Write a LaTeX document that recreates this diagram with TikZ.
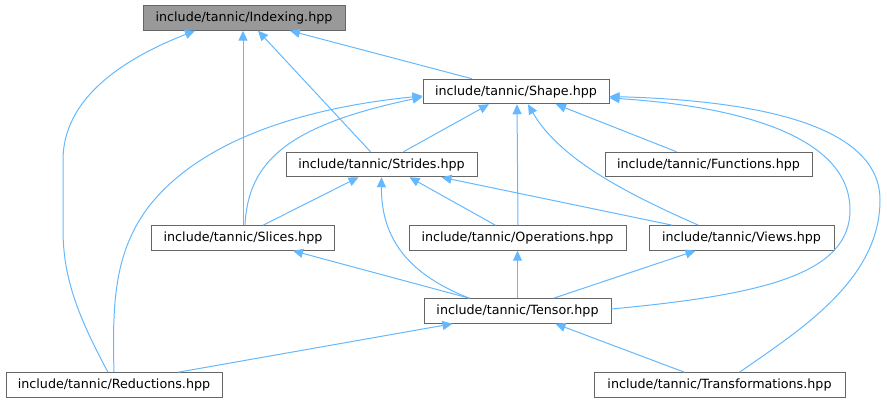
\documentclass[tikz,border=0pt]{standalone}
\usepackage{fontspec}
\setmainfont{DejaVu Sans}
\usetikzlibrary{arrows.meta}
\definecolor{edgec}{HTML}{63B8FF}
\definecolor{boxc}{HTML}{666666}
\definecolor{hl}{HTML}{999999}
\tikzset{
  file/.style={draw=boxc, line width=1pt, fill=white, minimum height=24.5pt, inner sep=0pt, font=\fontsize{12.7}{14}\selectfont},
  dep/.style={draw=edgec, line width=1pt, -{Triangle[length=10pt,width=9pt]}},
}
\begin{document}
\begin{tikzpicture}[x=1pt,y=-1pt]
\useasboundingbox (0,0) rectangle (887,403);
\node[file, fill=hl, minimum width=202pt] (idx) at (244,18) {include/tannic/Indexing.hpp};
\node[file, minimum width=186pt] (shape) at (516,91.5) {include/tannic/Shape.hpp};
\node[file, minimum width=191pt] (strides) at (381.5,164.5) {include/tannic/Strides.hpp};
\node[file, minimum width=207pt] (func) at (708.5,164.5) {include/tannic/Functions.hpp};
\node[file, minimum width=183pt] (slices) at (243,238) {include/tannic/Slices.hpp};
\node[file, minimum width=217pt] (ops) at (517.5,238) {include/tannic/Operations.hpp};
\node[file, minimum width=185pt] (views) at (741.5,238) {include/tannic/Views.hpp};
\node[file, minimum width=187pt] (tensor) at (517.5,311) {include/tannic/Tensor.hpp};
\node[file, minimum width=216pt] (red) at (114,385) {include/tannic/Reductions.hpp};
\node[file, minimum width=251pt] (trans) at (719.5,385) {include/tannic/Transformations.hpp};

% to Indexing
\draw[dep] ([xshift=-6pt]red.north) .. controls (80,320) and (63,280) .. (63,230) -- (63,160) .. controls (63,100) and (120,60) .. ([xshift=-49pt]idx.south);
\draw[dep] (slices.north) -- (slices.north |- idx.south);
\draw[dep] ([xshift=-11pt]strides.north) -- ([xshift=14pt]idx.south);
\draw[dep] ([xshift=-44pt]shape.north) -- ([xshift=46pt]idx.south);

% to Shape
\draw[dep] (red.north) .. controls (112,300) and (115,250) .. (150,205) .. controls (210,130) and (330,105) .. ([yshift=-4.5pt]shape.west);
\draw[dep] ([xshift=2pt]slices.north) .. controls (248,160) and (290,125) .. ([yshift=-5.5pt]shape.west);
\draw[dep] ([xshift=22pt]strides.north) -- ([xshift=-27pt]shape.south);
\draw[dep] ([xshift=0.5pt]ops.north) -- ([xshift=1pt]shape.south);
\draw[dep] ([xshift=-43pt]views.north) .. controls (630,195) and (560,160) .. ([xshift=12pt]shape.south);
\draw[dep] ([xshift=-32pt]func.north) -- ([xshift=40pt]shape.south);
\draw[dep] ([yshift=2pt]tensor.east) .. controls (760,295) and (850,275) .. (850,210) .. controls (850,130) and (720,105) .. ([yshift=-6.5pt]shape.east);
\draw[dep] ([xshift=20pt]trans.north) .. controls (800,330) and (880,280) .. (880,200) .. controls (880,120) and (740,100) .. ([yshift=-5pt]shape.east);

% to Strides
\draw[dep] ([xshift=20pt]slices.north) -- ([xshift=-23pt]strides.south);
\draw[dep] ([xshift=-48pt]tensor.north) .. controls (410,275) and (381,240) .. (strides.south);
\draw[dep] ([xshift=-22pt]ops.north) -- ([xshift=28pt]strides.south);
\draw[dep] ([xshift=-69pt]views.north) -- ([xshift=60pt]strides.south);

% to Slices / Operations / Views
\draw[dep] ([xshift=-48pt]tensor.north) -- ([xshift=50pt]slices.south);
\draw[dep] (tensor.north) -- (ops.south);
\draw[dep] ([xshift=36pt]tensor.north) -- ([xshift=-46pt]views.south);

% to Tensor
\draw[dep] ([xshift=64pt]red.north) -- ([xshift=-65pt]tensor.south);
\draw[dep] ([xshift=-35pt]trans.north) -- ([xshift=38pt]tensor.south);
\end{tikzpicture}
\end{document}
